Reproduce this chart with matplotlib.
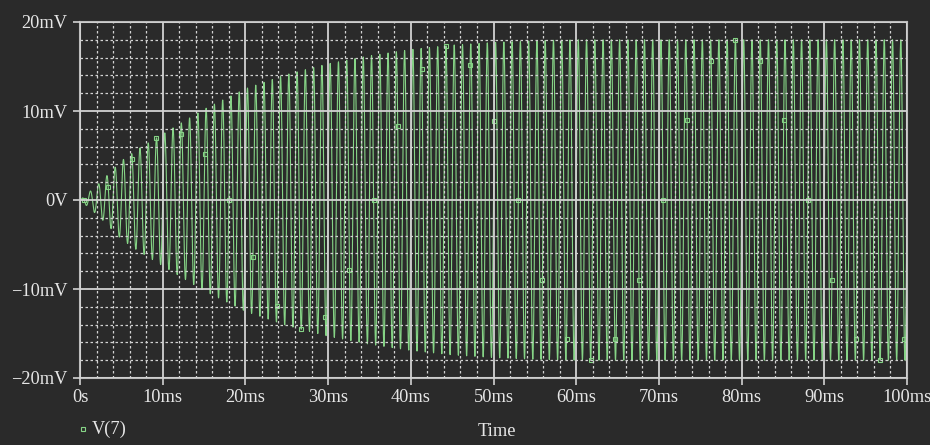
import numpy as np
import matplotlib
matplotlib.use("Agg")
import matplotlib.pyplot as plt
from matplotlib.ticker import MultipleLocator
from matplotlib.transforms import ScaledTranslation

# Oscillator start-up: envelope of V(7) (ms, mV) and carrier frequency
env_time_ms = [0, 1, 2, 3, 5, 7, 10, 15, 20, 25, 30, 35, 40, 45, 50, 55, 60, 70, 80, 90, 100]
env_amp_mv = [0.0, 0.8, 1.6, 2.5, 4.4, 5.7, 7.4, 10.2, 12.5, 14.1, 15.3, 16.2, 16.9, 17.4, 17.7, 17.9, 18.0, 18.0, 18.0, 18.0, 18.0]
carrier_khz = 1.0

x_ticks_ms = [0, 10, 20, 30, 40, 50, 60, 70, 80, 90, 100]
x_tick_labels = ["0s", "10ms", "20ms", "30ms", "40ms", "50ms", "60ms", "70ms", "80ms", "90ms", "100ms"]
y_ticks_mv = [-20, -10, 0, 10, 20]
y_tick_labels = ["\u221220mV", "\u221210mV", "0V", "10mV", "20mV"]
trace_name = "V(7)"

BG = "#2a2a2a"
FG = "#e6e6e6"
GRID = "#d2d2d2"
TRACE = "#86d486"

t = np.linspace(0, 100, 12001)
env = np.interp(t, env_time_ms, env_amp_mv)
v = env * np.sin(2 * np.pi * carrier_khz * t)

fig = plt.figure(figsize=(9.3, 4.45), dpi=100, facecolor=BG)
ax = fig.add_axes([80 / 930, 1 - 378 / 445, 827 / 930, 356 / 445])
ax.set_facecolor(BG)
ax.set_axisbelow(False)

font = dict(family="Liberation Serif", color=FG, fontsize=13.2)

ax.plot(t, v, color=TRACE, lw=0.8, zorder=2,
        marker="s", markersize=3.5, markerfacecolor="none",
        markeredgecolor=TRACE, markeredgewidth=0.8,
        markevery=slice(60, None, 350))

ax.set_xlim(0, 100)
ax.set_ylim(-20, 20)

ax.xaxis.set_minor_locator(MultipleLocator(2))
ax.yaxis.set_minor_locator(MultipleLocator(2))
ax.set_xticks(x_ticks_ms)
ax.set_xticklabels(x_tick_labels, **font)
ax.set_yticks(y_ticks_mv)
ax.set_yticklabels(y_tick_labels, **font)

# keep the last time label inside the figure
last = ax.get_xticklabels()[-1]
last.set_transform(last.get_transform() + ScaledTranslation(-3 / 100, 0, fig.dpi_scale_trans))

ax.grid(which="major", color=GRID, lw=1.3, ls="-")
ax.grid(which="minor", color=GRID, lw=0.9, ls=(0, (2, 2)))

ax.tick_params(which="major", direction="out", length=5, width=1.2,
               color=GRID, pad=4)
ax.tick_params(which="minor", length=0)
ax.tick_params(axis="x", pad=3)

for s in ax.spines.values():
    s.set_color("#bdbdbd")
    s.set_linewidth(1.5)

# legend entry and axis title
fig.lines.append(plt.Line2D([83 / 930], [1 - 429 / 445], transform=fig.transFigure,
                            marker="s", markersize=3.5, markerfacecolor="none",
                            markeredgecolor=TRACE, markeredgewidth=0.8, ls="none"))
fig.text(92 / 930, 1 - 429 / 445, trace_name, ha="left", va="center", **font)
fig.text(497 / 930, 1 - 431 / 445, "Time", ha="center", va="center", **font)

fig.savefig("out.png", dpi=100, facecolor=BG)
